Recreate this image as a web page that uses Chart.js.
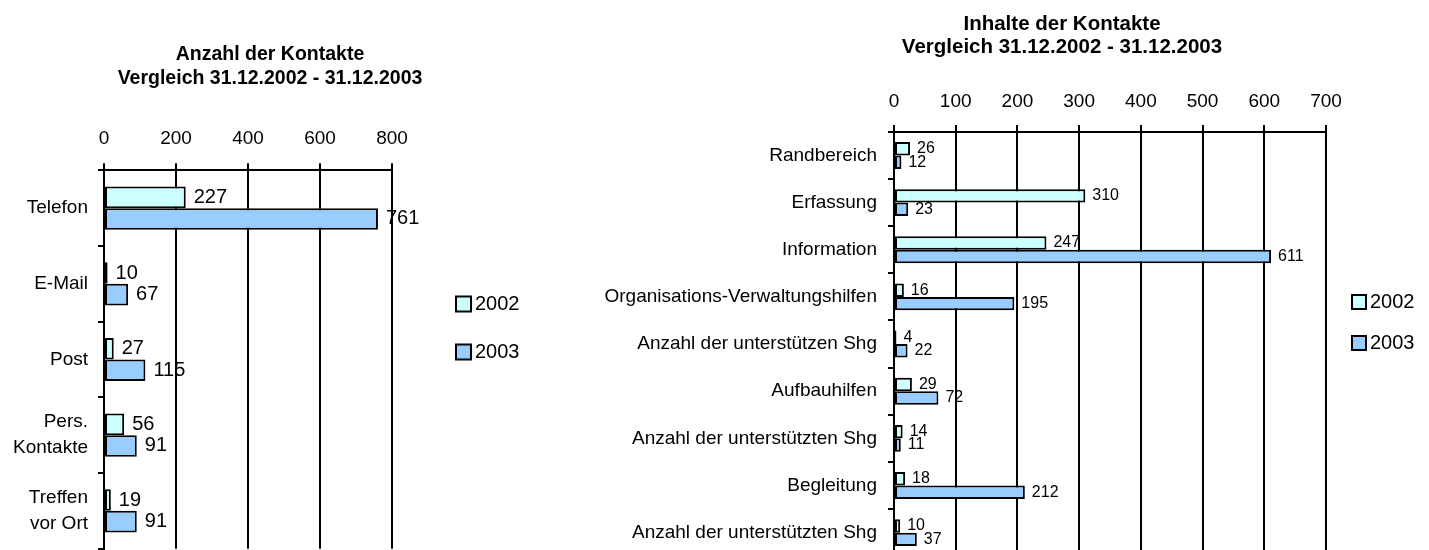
<!DOCTYPE html>
<html lang="de">
<head>
    <meta charset="UTF-8">
    <title>Kontakte 2002 - 2003</title>
    <script src="https://cdn.jsdelivr.net/npm/chart.js"></script>
    <style>
        html, body {
            margin: 0;
            padding: 0;
            background: #fff;
            overflow: hidden;
        }
        .box {
            position: absolute;
            top: 0;
        }
        #left-box { left: 0; }
        #right-box { left: 560px; }
    </style>
</head>
<body>
<div class="box" id="left-box"><canvas id="kontakte-chart" width="560" height="600"></canvas></div>
<div class="box" id="right-box"><canvas id="inhalte-chart" width="869" height="600"></canvas></div>

<script>
// Anzahl der Kontakte
const kontakteLabels = ['Telefon', 'E-Mail', 'Post', ['Pers.', 'Kontakte'], ['Treffen', 'vor Ort']];
const kontakte2002 = [227, 10, 27, 56, 19];
const kontakte2003 = [761, 67, 115, 91, 91];
const kontakteTicks = [0, 200, 400, 600, 800];

// Inhalte der Kontakte
const inhalteLabels = [
    'Randbereich',
    'Erfassung',
    'Information',
    'Organisations-Verwaltungshilfen',
    'Anzahl der unterstützen Shg',
    'Aufbauhilfen',
    'Anzahl der unterstützten Shg',
    'Begleitung',
    'Anzahl der unterstützten Shg'
];
const inhalte2002 = [26, 310, 247, 16, 4, 29, 14, 18, 10];
const inhalte2003 = [12, 23, 611, 195, 22, 72, 11, 212, 37];
const inhalteTicks = [0, 100, 200, 300, 400, 500, 600, 700];

const years = ['2002', '2003'];
const yearColors = ['#CCFFFF', '#99CCFF'];

const FONT = "'Liberation Sans', Arial, sans-serif";
Chart.defaults.font.family = FONT;
Chart.defaults.color = '#000';

// two centered bold title lines
const titleLines = {
    id: 'titleLines',
    afterDraw(chart, args, opts) {
        const ctx = chart.ctx;
        ctx.save();
        ctx.font = 'bold ' + opts.size + 'px ' + FONT;
        ctx.fillStyle = '#000';
        ctx.textAlign = 'center';
        ctx.textBaseline = 'middle';
        opts.text.forEach((t, i) => ctx.fillText(t, opts.x, opts.y + i * opts.lineHeight));
        ctx.restore();
    }
};

// value next to the end of every bar
const barValues = {
    id: 'barValues',
    afterDatasetsDraw(chart, args, opts) {
        const ctx = chart.ctx;
        ctx.save();
        ctx.font = opts.size + 'px ' + FONT;
        ctx.fillStyle = '#000';
        ctx.textAlign = 'left';
        ctx.textBaseline = 'middle';
        chart.data.datasets.forEach((ds, i) => {
            chart.getDatasetMeta(i).data.forEach((bar, j) => {
                ctx.fillText(ds.data[j], bar.x + opts.offset, bar.y);
            });
        });
        ctx.restore();
    }
};

// legend to the right of the plot, excel style
const sideLegend = {
    id: 'sideLegend',
    afterDraw(chart, args, opts) {
        const ctx = chart.ctx;
        ctx.save();
        ctx.font = opts.size + 'px ' + FONT;
        ctx.textAlign = 'left';
        ctx.textBaseline = 'middle';
        chart.data.datasets.forEach((ds, i) => {
            const cy = opts.y + i * opts.gap;
            ctx.fillStyle = ds.backgroundColor;
            ctx.fillRect(opts.x, cy - opts.box / 2, opts.box, opts.box);
            ctx.lineWidth = 2;
            ctx.strokeStyle = '#000';
            ctx.strokeRect(opts.x, cy - opts.box / 2, opts.box, opts.box);
            ctx.fillStyle = '#000';
            ctx.fillText(ds.label, opts.x + opts.box + 4, cy);
        });
        ctx.restore();
    }
};

function makeChart(id, labels, d2002, d2003, ticks, cfg) {
    const ctx = document.getElementById(id).getContext('2d');
    return new Chart(ctx, {
        type: 'bar',
        data: {
            labels: labels,
            datasets: [d2002, d2003].map((d, i) => ({
                label: years[i],
                data: d,
                backgroundColor: yearColors[i],
                borderColor: '#000',
                borderWidth: 2,
                borderSkipped: false,
                categoryPercentage: 0.57,
                barPercentage: 1.0
            }))
        },
        options: {
            indexAxis: 'y',
            responsive: false,
            animation: false,
            devicePixelRatio: 1,
            layout: {
                padding: { left: 0, top: 0, right: cfg.padRight, bottom: cfg.padBottom }
            },
            scales: {
                x: {
                    position: 'top',
                    min: ticks[0],
                    max: ticks[ticks.length - 1],
                    afterBuildTicks: s => { s.ticks = ticks.map(v => ({ value: v })); },
                    ticks: {
                        color: '#000',
                        font: { size: cfg.tickSize },
                        padding: cfg.xPad
                    },
                    grid: { color: '#000', lineWidth: 2, tickLength: 7 },
                    border: { color: '#000', width: 2 },
                    afterFit: s => { s.height = cfg.top; }
                },
                y: {
                    ticks: {
                        color: '#000',
                        autoSkip: false,
                        font: { size: cfg.labelSize, lineHeight: cfg.labelLH },
                        padding: cfg.yPad
                    },
                    grid: { offset: true, drawOnChartArea: false, color: '#000', lineWidth: 2, tickLength: 6 },
                    border: { color: '#000', width: 2 },
                    afterFit: s => { s.width = cfg.left; }
                }
            },
            plugins: {
                legend: { display: false },
                title: { display: false },
                tooltip: { enabled: false },
                titleLines: cfg.title,
                barValues: cfg.values,
                sideLegend: cfg.legend
            }
        },
        plugins: [titleLines, barValues, sideLegend]
    });
}

// canvases are 600 high, the bottom of both plots runs just past the window
makeChart('kontakte-chart', kontakteLabels, kontakte2002, kontakte2003, kontakteTicks, {
    left: 104, top: 170.3, padRight: 168, padBottom: 51.3,
    tickSize: 19, labelSize: 19, labelLH: 1.37, xPad: 13, yPad: 10,
    title: { text: ['Anzahl der Kontakte', 'Vergleich 31.12.2002 - 31.12.2003'], x: 270, y: 55, lineHeight: 24, size: 19.5 },
    values: { size: 20, offset: 8 },
    legend: { x: 456, y: 304, gap: 48, box: 15, size: 20 }
});

makeChart('inhalte-chart', inhalteLabels, inhalte2002, inhalte2003, inhalteTicks, {
    left: 334, top: 131.9, padRight: 103, padBottom: 43.8,
    tickSize: 19, labelSize: 19, labelLH: 1.2, xPad: 11.5, yPad: 11,
    title: { text: ['Inhalte der Kontakte', 'Vergleich 31.12.2002 - 31.12.2003'], x: 502, y: 24, lineHeight: 23, size: 20.5 },
    values: { size: 16, offset: 7 },
    legend: { x: 792, y: 302, gap: 41, box: 14, size: 20 }
});
</script>
</body>
</html>
